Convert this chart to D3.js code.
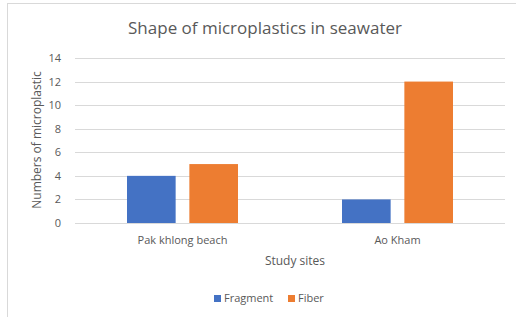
<!DOCTYPE html>
<html>
<head>
<meta charset="utf-8">
<script src="https://cdn.jsdelivr.net/npm/d3@7"></script>
<style>
  body { margin: 0; background: #fff; }
  text { font-family: "Open Sans", "Noto Sans", sans-serif; fill: #595959; }
</style>
</head>
<body>
<div id="chart"></div>
<script>
// data
const sites = ["Pak khlong beach", "Ao Kham"];
const seriesNames = ["Fragment", "Fiber"];
const fragment = [4, 2];
const fiber = [5, 12];
const yTicks = [0, 2, 4, 6, 8, 10, 12, 14];
const colors = ["#4472C4", "#ED7D31"];

const W = 516, H = 317;
const margin = { top: 58, right: 11, bottom: 94, left: 75 };
const width = W - margin.left - margin.right,
    height = H - margin.top - margin.bottom;

const svg = d3.select("#chart")
  .append("svg")
  .attr("width", W)
  .attr("height", H);

// chart frame
svg.append("rect")
  .attr("x", 7.5).attr("y", 3.5)
  .attr("width", 540).attr("height", 340)
  .attr("fill", "#fff")
  .attr("stroke", "#d9d9d9");

svg.append("text")
  .attr("x", 265).attr("y", 34)
  .attr("text-anchor", "middle")
  .style("font-size", "17px")
  .text("Shape of microplastics in seawater");

const g = svg.append("g")
  .attr("transform", `translate(${margin.left},${margin.top})`);

const x0 = d3.scaleBand().domain(sites).range([0, width]);
const x1 = d3.scaleBand().domain(seriesNames)
  .range([52, x0.bandwidth() - 52])
  .paddingInner(0.22);
const y = d3.scaleLinear().domain([0, 14]).range([height, 0]);

// gridlines
g.append("g")
  .selectAll("line")
  .data(yTicks)
  .join("line")
  .attr("x1", 0).attr("x2", width)
  .attr("y1", d => Math.round(y(d)) + 0.5)
  .attr("y2", d => Math.round(y(d)) + 0.5)
  .attr("stroke", "#d9d9d9");

// y axis labels
const yAxis = g.append("g")
  .call(d3.axisLeft(y).tickValues(yTicks).tickSize(0).tickPadding(14));
yAxis.select(".domain").remove();
yAxis.selectAll("text")
  .style("font-size", "11px")
  .style("font-family", "\"Open Sans\", sans-serif")
  .attr("fill", "#595959");

// bars
const rows = sites.map((s, i) => ({ site: s, values: [fragment[i], fiber[i]] }));
g.append("g")
  .selectAll("g")
  .data(rows)
  .join("g")
  .attr("transform", d => `translate(${x0(d.site)},0)`)
  .selectAll("rect")
  .data(d => d.values.map((v, j) => ({ key: seriesNames[j], value: v, c: colors[j] })))
  .join("rect")
  .attr("x", d => x1(d.key))
  .attr("y", d => y(d.value))
  .attr("width", x1.bandwidth())
  .attr("height", d => y(0) - y(d.value))
  .attr("fill", d => d.c);

// x axis labels
const xAxis = g.append("g")
  .attr("transform", `translate(0,${height})`)
  .call(d3.axisBottom(x0).tickSize(0).tickPadding(13));
xAxis.select(".domain").remove();
xAxis.selectAll("text")
  .style("font-size", "11px")
  .style("font-family", "\"Open Sans\", sans-serif")
  .attr("fill", "#595959");

// axis titles
svg.append("text")
  .attr("x", 295).attr("y", 265)
  .attr("text-anchor", "middle")
  .style("font-size", "12px")
  .text("Study sites");

svg.append("text")
  .attr("transform", "translate(41,140) rotate(-90)")
  .attr("text-anchor", "middle")
  .style("font-size", "12px")
  .text("Numbers of microplastic");

// legend
const legend = svg.append("g").attr("transform", "translate(214,302)");
const lx = [0, 74];
seriesNames.forEach((name, i) => {
  legend.append("rect")
    .attr("x", lx[i]).attr("y", -7)
    .attr("width", 7).attr("height", 7)
    .attr("fill", colors[i]);
  legend.append("text")
    .attr("x", lx[i] + 10).attr("y", 0)
    .style("font-size", "11px")
    .text(name);
});
</script>
</body>
</html>
